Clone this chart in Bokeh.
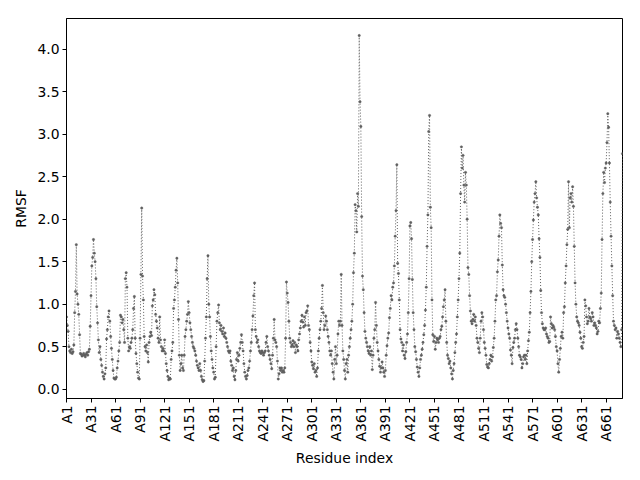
import math
from bokeh.plotting import figure
from bokeh.models import FixedTicker, Range1d, ColumnDataSource, NumeralTickFormatter
from bokeh.embed import file_html
from bokeh.resources import INLINE

# RMSF per residue (residues A1 .. A681), in segments
seg1 = [0.85, 0.75, 0.68, 0.50, 0.45, 0.43, 0.47, 0.42, 0.44, 0.52,
        0.90, 1.15, 1.70, 1.12, 1.00, 0.88, 0.64, 0.42, 0.41, 0.39,
        0.40, 0.42, 0.40, 0.38, 0.41, 0.43, 0.40, 0.44, 0.47, 0.74,
        1.10, 1.45, 1.55, 1.76, 1.60, 1.50, 1.30, 0.97, 0.78, 0.58,
        0.43, 0.50, 0.35, 0.28, 0.20, 0.15, 0.12, 0.18, 0.25, 0.59,
        0.70, 0.85, 0.92, 0.80, 0.62, 0.48, 0.35, 0.22, 0.13, 0.12,
        0.12, 0.14, 0.25, 0.33, 0.45, 0.55, 0.87, 0.85, 0.78, 0.82,
        0.70, 0.55, 1.30, 1.37, 1.20, 0.60, 0.45, 0.50, 0.48, 0.55,
        0.60, 0.70, 0.95, 1.09, 0.60, 0.42, 0.30, 0.20, 0.13, 0.12,
        0.60, 1.35, 2.13]
seg2 = [1.33, 1.05, 0.62, 0.50, 0.45, 0.52, 0.43, 0.32, 0.55, 0.62,
        0.67, 0.63, 0.98, 1.05, 1.17, 1.11, 0.88, 0.80, 0.72, 0.60,
        0.55, 0.85, 0.58, 0.50, 0.45, 0.48, 0.45, 0.58, 0.42, 0.30,
        0.22, 0.15, 0.11, 0.13, 0.12, 0.35, 0.45, 0.55, 0.95, 1.05,
        1.20, 1.40, 1.54, 1.25, 0.82, 0.40, 0.22, 0.30, 0.40, 0.25,
        0.22, 0.40, 0.62, 0.70, 0.80, 0.88, 1.03, 0.90, 0.78, 0.70,
        0.62, 0.55, 0.50, 0.48, 0.45, 0.40, 0.33, 0.28, 0.25, 0.22,
        0.30, 0.22, 0.15, 0.11, 0.09, 0.10, 0.33, 0.60, 0.85, 1.30,
        1.57, 1.00, 0.85, 0.62, 0.45, 0.35, 0.25, 0.20, 0.12, 0.14,
        0.50, 0.80, 0.90, 0.99, 0.78, 0.70, 0.75, 0.68, 0.65, 0.72,
        0.62, 0.66, 0.60]
seg3 = [0.55, 0.50, 0.45, 0.43, 0.45, 0.33, 0.28, 0.22, 0.25, 0.15,
        0.11, 0.22, 0.35, 0.43, 0.33, 0.40, 0.48, 0.55, 0.64, 0.55,
        0.45, 0.30, 0.20, 0.15, 0.12, 0.16, 0.22, 0.25, 0.33, 0.45,
        0.55, 0.70, 0.86, 1.10, 1.25, 0.70, 0.62, 0.55, 0.58, 0.50,
        0.45, 0.43, 0.42, 0.45, 0.43, 0.40, 0.43, 0.45, 0.55, 0.62,
        0.50, 0.45, 0.40, 0.35, 0.30, 0.24, 0.40, 0.60, 0.82, 0.58,
        0.55, 0.50, 0.33, 0.12, 0.18, 0.25, 0.22, 0.25, 0.20, 0.22,
        0.20, 0.25, 0.60, 1.26, 1.13, 1.02, 0.80, 0.60, 0.55, 0.50,
        0.52, 0.57, 0.50, 0.55, 0.43, 0.52, 0.50, 0.45, 0.58, 0.65,
        0.72, 0.80, 0.87, 0.79, 0.73]
seg4 = [0.85, 0.75, 0.90, 0.92, 0.98, 0.75, 0.70, 0.55, 0.45, 0.32,
        0.28, 0.24, 0.30, 0.20, 0.22, 0.15, 0.25, 0.45, 0.60, 0.70,
        0.80, 0.95, 1.22, 0.90, 0.70, 0.75, 0.86, 0.80, 0.70, 0.62,
        0.55, 0.45, 0.40, 0.45, 0.30, 0.20, 0.12, 0.35, 0.50, 0.30,
        0.40, 0.65, 0.80, 0.75, 0.80, 1.35, 0.75, 0.45, 0.35, 0.22,
        0.12, 0.30, 0.35, 0.20, 0.40, 0.50, 0.60, 0.70, 0.80, 1.00,
        1.37, 1.60, 2.17, 2.10, 1.85, 2.30, 2.15, 4.16, 3.38, 3.09,
        2.03, 1.33, 1.17, 0.90, 0.68, 0.60, 0.55, 0.50, 0.45, 0.42,
        0.50, 0.40, 0.45, 0.23, 0.40, 0.60, 0.70, 1.02, 0.75, 0.55,
        0.45, 0.35, 0.27, 0.20, 0.25]
seg5 = [0.32, 0.25, 0.20, 0.15, 0.22, 0.40, 0.51, 0.60, 0.66, 0.84,
        0.95, 1.10, 1.05, 1.20, 1.25, 1.45, 1.80, 2.10, 2.64, 1.48,
        1.36, 1.05, 0.70, 0.59, 0.55, 0.45, 0.52, 0.40, 0.36, 0.44,
        0.55, 0.65, 0.90, 1.30, 1.92, 1.96, 1.77, 1.29, 0.90, 0.70,
        0.50, 0.44, 0.35, 0.26, 0.20, 0.15, 0.25, 0.35, 0.40, 0.47,
        0.55, 0.64, 0.75, 0.93, 1.20, 1.68, 2.05, 3.03, 3.22, 2.14,
        1.90, 1.05, 0.64, 0.56, 0.62, 0.47, 0.55, 0.60, 0.58, 0.55,
        0.60, 0.62, 0.70, 0.74, 0.85, 0.97, 1.05, 1.17, 0.80, 0.55,
        0.40, 0.36, 0.30, 0.33, 0.25, 0.18, 0.12, 0.22, 0.30, 0.43,
        0.55, 0.65, 0.85, 1.05, 1.30, 1.60, 2.30, 2.85, 2.60, 2.75,
        2.40, 2.20]
seg6 = [2.55, 2.40, 2.00, 1.43, 1.35, 1.10, 0.92, 0.80, 0.77, 0.82,
        0.88, 0.80, 0.85, 0.75, 0.60, 0.55, 0.48, 0.43, 0.60, 0.80,
        0.90, 0.85, 0.70, 0.55, 0.48, 0.40, 0.29, 0.26, 0.25, 0.30,
        0.35, 0.40, 0.33, 0.38, 0.49, 0.60, 0.80, 1.05, 1.10, 1.38,
        1.52, 1.80, 2.05, 1.95, 1.90, 1.46, 1.17, 1.10, 1.08, 1.00,
        0.90, 0.80, 0.72, 0.65, 0.60, 0.46, 0.40, 0.30, 0.49, 0.55,
        0.60, 0.70, 0.77, 0.70, 0.60, 0.50, 0.40, 0.38, 0.35, 0.25,
        0.30, 0.38, 0.40, 0.35, 0.40, 0.30, 0.45, 0.57, 0.67, 0.90,
        1.15, 1.50, 1.76, 1.99, 2.20, 2.30, 2.44, 2.25, 2.14, 2.05,
        1.77, 1.55, 1.16, 0.90, 0.77, 0.72, 0.70]
seg7 = [0.70, 0.72, 0.65, 0.62, 0.60, 0.55, 0.56, 0.85, 0.77, 0.72,
        0.75, 0.73, 0.70, 0.62, 0.50, 0.45, 0.30, 0.20, 0.35, 0.48,
        0.62, 0.67, 0.60, 0.90, 0.97, 1.25, 1.45, 1.70, 1.88, 2.44,
        1.90, 2.25, 2.30, 2.20, 2.38, 2.15, 1.68, 1.25, 1.00, 0.85,
        0.80, 0.78, 0.75, 0.67, 0.60, 0.50, 0.48, 0.55, 0.62, 1.05,
        0.98, 0.85, 0.77, 0.80, 0.95, 0.85, 0.83, 0.80, 0.90, 0.85,
        0.75, 0.78, 0.75, 0.72, 0.65, 0.68, 0.80, 0.78, 0.95, 1.13,
        1.76, 2.30, 2.55, 2.43, 2.60, 2.66, 2.90, 3.24, 3.08, 2.66,
        2.20, 1.80, 1.45, 1.10, 0.80, 0.75, 0.70, 0.72, 0.60, 0.68,
        0.65, 0.60, 0.55, 0.50, 0.70, 2.77]

rmsf = seg1 + seg2 + seg3 + seg4 + seg5 + seg6 + seg7
residue = list(range(len(rmsf)))

x_tick_positions = [0, 30, 60, 90, 120, 150, 180, 210, 240, 270, 300, 330,
                    360, 390, 420, 450, 480, 510, 540, 570, 600, 630, 660]
x_tick_labels = ["A1", "A31", "A61", "A91", "A121", "A151", "A181", "A211",
                 "A241", "A271", "A301", "A331", "A361", "A391", "A421",
                 "A451", "A481", "A511", "A541", "A571", "A601", "A631", "A661"]
y_ticks = [0.0, 0.5, 1.0, 1.5, 2.0, 2.5, 3.0, 3.5, 4.0]

FONT = "DejaVu Sans"
FS = "13.9px"
COLOR = "#5f5f5f"

src = ColumnDataSource(dict(x=residue, y=rmsf))

p = figure(width=624, height=470, output_backend="svg", toolbar_location=None,
           x_range=Range1d(0, len(rmsf) - 1), y_range=Range1d(-0.11, 4.36),
           min_border_left=66, min_border_right=2, min_border_top=18,
           min_border_bottom=72)
p.background_fill_color = "white"
p.border_fill_color = "white"
p.grid.visible = False
p.outline_line_color = "black"
p.outline_line_width = 1
p.outline_line_alpha = 1

p.line("x", "y", source=src, line_color=COLOR, line_width=1.0, line_dash="1 2")
p.scatter("x", "y", source=src, size=2.4, fill_color=COLOR, line_color=COLOR,
          line_width=0.4)

p.xaxis.ticker = FixedTicker(ticks=x_tick_positions)
p.xaxis.major_label_overrides = {pos: lab for pos, lab in zip(x_tick_positions, x_tick_labels)}
p.xaxis.major_label_orientation = math.pi / 2
p.yaxis.ticker = FixedTicker(ticks=y_ticks)
p.yaxis.formatter = NumeralTickFormatter(format="0.0")

for ax in (p.xaxis, p.yaxis):
    ax.axis_line_color = "black"
    ax.major_tick_line_color = "black"
    ax.major_tick_in = 0
    ax.major_tick_out = 4
    ax.minor_tick_line_color = None
    ax.major_label_text_font = FONT
    ax.major_label_text_font_size = FS
    ax.major_label_text_color = "black"
    ax.axis_label_text_font = FONT
    ax.axis_label_text_font_size = FS
    ax.axis_label_text_font_style = "normal"
    ax.axis_label_text_color = "black"
    ax.major_label_standoff = 3

p.xaxis.axis_label = "Residue index"
p.yaxis.axis_label = "RMSF"
p.xaxis.axis_label_standoff = 5
p.yaxis.axis_label_standoff = 5

open("out.html", "w").write(file_html(p, INLINE))
